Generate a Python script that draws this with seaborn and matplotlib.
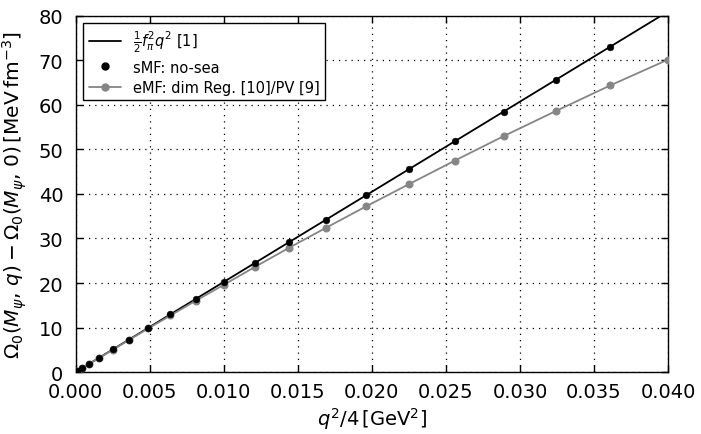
import numpy as np
import pandas as pd
import matplotlib
matplotlib.use("Agg")
import matplotlib.pyplot as plt
import seaborn as sns
from matplotlib.lines import Line2D

# data
x_pts = [0.0001, 0.0004, 0.0009, 0.0016, 0.0025, 0.0036, 0.0049, 0.0064, 0.0081, 0.0100,
         0.0121, 0.0144, 0.0169, 0.0196, 0.0225, 0.0256, 0.0289, 0.0324, 0.0361, 0.0400]
smf_vals = [0.2, 0.81, 1.82, 3.24, 5.06, 7.29, 9.92, 12.96, 16.4, 20.25,
            24.5, 29.16, 34.2, 39.7, 45.6, 51.8, 58.5, 65.6, 73.1]
emf_vals = [0.2, 0.8, 1.8, 3.2, 5.0, 7.2, 9.8, 12.7, 16.0, 19.6,
            23.6, 27.9, 32.4, 37.2, 42.2, 47.5, 53.0, 58.6, 64.4, 70.2]
line_x = [0.0, 0.04]
line_y = [0.0, 81.0]

labels = [r'$\frac{1}{2}f_\pi^2q^2$ [1]', 'sMF: no-sea', 'eMF: dim Reg. [10]/PV [9]']
xticks = [0.000, 0.005, 0.010, 0.015, 0.020, 0.025, 0.030, 0.035, 0.040]
yticks = [0, 10, 20, 30, 40, 50, 60, 70, 80]

sns.set_style("ticks")
plt.rcParams.update({
    "font.family": ["DejaVu Sans"],
    "text.color": "black", "axes.labelcolor": "black",
    "xtick.direction": "in", "ytick.direction": "in",
    "xtick.top": True, "ytick.right": True,
    "xtick.major.size": 5, "ytick.major.size": 5,
    "axes.edgecolor": "black", "axes.linewidth": 1.0,
    "xtick.color": "black", "ytick.color": "black",
    "xtick.labelcolor": "black", "ytick.labelcolor": "black",
    "mathtext.fontset": "dejavusans",
})

fig = plt.figure(figsize=(7.01, 4.35), dpi=100)
ax = fig.add_axes([0.108, 0.1425, 0.845, 0.8185])

df_line = pd.DataFrame({"x": line_x, "y": line_y})
df_smf = pd.DataFrame({"x": x_pts[:len(smf_vals)], "y": smf_vals})
df_emf = pd.DataFrame({"x": x_pts, "y": emf_vals})

gray = "#858585"
sns.lineplot(data=df_line, x="x", y="y", color="black", lw=1.3, ax=ax, zorder=3)
sns.lineplot(data=df_emf, x="x", y="y", color=gray, lw=1.3, marker="o",
             markersize=5, markeredgecolor=gray, ax=ax, zorder=4)
sns.scatterplot(data=df_smf, x="x", y="y", color="black", s=24, edgecolor="black",
                linewidth=0.3, ax=ax, zorder=5)

ax.set_xlim(0, 0.04)
ax.set_ylim(0, 80)
ax.set_xticks(xticks)
ax.set_yticks(yticks)
ax.set_xticklabels([f"{t:.3f}" for t in xticks])
ax.tick_params(labelsize=14, width=1.0)
ax.tick_params(axis="x", pad=7.5)
ax.tick_params(axis="y", pad=9)
ax.grid(True, color="black", linestyle=(0, (1, 4)), linewidth=0.9)
ax.set_axisbelow(True)
for s in ax.spines.values():
    s.set_visible(True)

ax.set_xlabel(r'$q^2/4\,[\mathrm{GeV}^2]$', fontsize=14, color="black", labelpad=3)
ax.set_ylabel(r'$\Omega_0(M_\psi,\,q)-\Omega_0(M_\psi,\,0)\,[\mathrm{MeV\,fm^{-3}}]$',
              fontsize=14.5, color="black", labelpad=7)

handles = [
    Line2D([], [], color="black", lw=1.3),
    Line2D([], [], color="black", lw=0, marker="o", markersize=5),
    Line2D([], [], color=gray, lw=1.3, marker="o", markersize=5),
]
leg = ax.legend(handles, labels, loc="upper left", fontsize=10.5, frameon=True,
                fancybox=False, edgecolor="black", framealpha=1, numpoints=1,
                borderaxespad=0.5, handlelength=2.2, labelspacing=0.35)
leg.get_frame().set_linewidth(1.0)
for t in leg.get_texts():
    t.set_color("black")

fig.savefig("out.png", dpi=100)
